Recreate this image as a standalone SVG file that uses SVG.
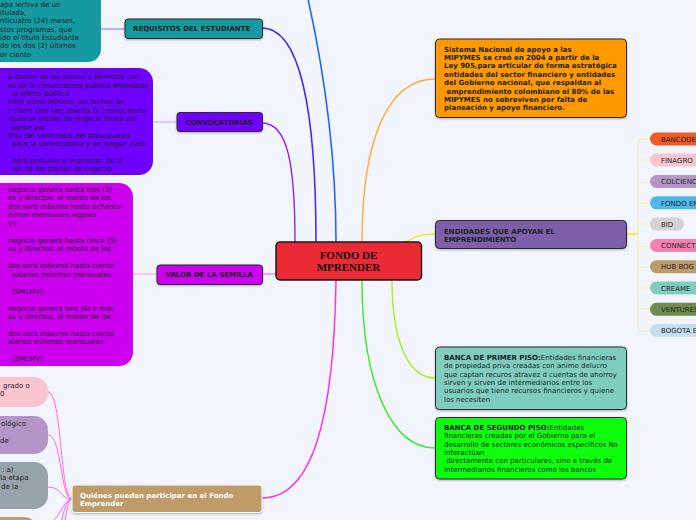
<svg xmlns="http://www.w3.org/2000/svg" width="696" height="520" viewBox="0 0 696 520">
<defs>
<filter id="sh" x="-10%" y="-10%" width="120%" height="130%"><feDropShadow dx="0" dy="1" stdDeviation="0.8" flood-color="#000" flood-opacity="0.3"/></filter>
<style>
.t{font-family:"DejaVu Sans",Verdana,sans-serif;font-size:7px;fill:#1e1e1e}
.b{font-weight:bold}
.w{fill:#ffffff}
.box{stroke:#2a2a2a;stroke-width:1;filter:url(#sh)}
.big{stroke:none}
.c{fill:none;stroke-linecap:round}
.pill{stroke:none}
</style>
</defs>
<rect width="696" height="520" fill="#f2f5fd"/>

<g id="connectors">
<path class="c" d="M316,242 C316,110 300,28 262,28" stroke="#4030ee" stroke-width="1.6"/>
<path class="c" d="M336,242 C336,150 322,60 306,-10" stroke="#2266ff" stroke-width="1.6"/>
<path class="c" d="M295,242 C295,165 288,123 262,123" stroke="#8a22ff" stroke-width="1.4"/>
<path class="c" d="M362,242 C362,135 390,79 435,79" stroke="#ffaa33" stroke-width="1.4"/>
<path class="c" d="M405,243 C412,237 420,234 435,234" stroke="#eeee22" stroke-width="1.4"/>
<path class="c" d="M392,280 C392,345 410,378 435,378" stroke="#aaee22" stroke-width="1.4"/>
<path class="c" d="M362,280 C362,385 392,448 435,448" stroke="#33ee22" stroke-width="1.4"/>
<path class="c" d="M336,280 C334,420 312,498 262,498" stroke="#ff33dd" stroke-width="1.5"/>
<path class="c" d="M262,274 L276,274" stroke="#ee88ff" stroke-width="1.5"/>
<path class="c" d="M101,29 L125,29" stroke="#7a70ff" stroke-width="1.2"/>
<path class="c" d="M153,122 L177,122" stroke="#c49cff" stroke-width="1.2"/>
<path class="c" d="M133,274 L157,274" stroke="#e6a0ff" stroke-width="1.2"/>
<path class="c" d="M626,234 L638,234" stroke="#eeee11" stroke-width="1.5"/>
<g stroke="#f3f39a" stroke-width="1" fill="none">
<path d="M638,143 Q638,139 642,139 L650,139"/>
<path d="M638,326 Q638,331 642,331 L650,331"/>
<path d="M638,143 L638,326"/>
<path d="M638,160 L650,160"/>
<path d="M638,182 L650,182"/>
<path d="M638,203 L650,203"/>
<path d="M638,224 L650,224"/>
<path d="M638,246 L650,246"/>
<path d="M638,267 L650,267"/>
<path d="M638,288 L650,288"/>
<path d="M638,309 L650,309"/>
</g>
<g stroke="#ff66e0" stroke-width="1" fill="none">
<path d="M72,499 C60,499 62,392 48,392"/>
<path d="M72,499 C60,499 62,435 48,435"/>
<path d="M72,499 C60,499 62,487 48,487"/>
<path d="M72,499 C62,499 60,525 38,530"/>
<path d="M72,499 C62,499 60,540 50,570"/>
<path d="M72,499 C64,499 63,560 55,600"/>
</g>
</g>

<g id="center">
<rect x="276" y="242" width="145.5" height="38" rx="4" fill="#ec2a35" stroke="#1a1a1a" stroke-width="1.5"/>
<text x="348.5" y="259" text-anchor="middle" font-family="'Liberation Serif',serif" font-weight="bold" font-size="11" fill="#111">FONDO DE</text>
<text x="348.5" y="270.5" text-anchor="middle" font-family="'Liberation Serif',serif" font-weight="bold" font-size="11" fill="#111">MPRENDER</text>
</g>

<g id="requisitos">
<rect class="box" x="125" y="19" width="137.5" height="19.5" rx="3" fill="#159aa0"/>
<text class="t b" x="133" y="31">REQUISITOS DEL ESTUDIANTE</text>
</g>
<g id="requisitos-detalle">
<rect class="big" x="-40" y="-20" width="141" height="82" rx="13" fill="#159aa0"/>
<text class="t" x="0" y="6.5">apa lectiva de un</text>
<text class="t" x="0" y="14.9">itulada,</text>
<text class="t" x="0" y="23.2">nticuatro (24) meses,</text>
<text class="t" x="0" y="31.6">stos programas, que</text>
<text class="t" x="0" y="40">ido el título Estudiante</text>
<text class="t" x="0" y="48.3">do los dos (2) últimos</text>
<text class="t" x="0" y="56.7">or ciento</text>
</g>

<g id="convocatorias">
<rect class="box" x="177" y="112.5" width="85.5" height="19" rx="3" fill="#7000ff"/>
<text class="t b" x="185.5" y="125">CONVOCATORIAS</text>
</g>
<g id="convocatorias-detalle">
<rect class="big" x="-40" y="68" width="193" height="107" rx="14" fill="#7000ff"/>
<text class="t" x="8" y="79.2">á dentro de los plazos y términos  con</text>
<text class="t" x="8" y="87.6">es de la convocatoria pública entendida</text>
<text class="t" x="12" y="96">la oferta pública</text>
<text class="t" x="8" y="104.3">ndrá como mínimo, las fechas de</text>
<text class="t" x="8" y="112.7">r cierre Una vez abierta la convocatoria</text>
<text class="t" x="8" y="121.1">stularse planes de negocio hasta por</text>
<text class="t" x="10" y="129.5">veinte por</text>
<text class="t" x="8" y="137.8">0%) del valor total del presupuesto</text>
<text class="t" x="12" y="146.2">para la convocatoria y en ningún caso</text>
<text class="t" x="12" y="163">odrá postular al momento de la</text>
<text class="t" x="12" y="171.3">ión de los planes de negocio</text>
</g>

<g id="valor">
<rect class="box" x="157" y="265" width="105.5" height="19.5" rx="3" fill="#cc00ee"/>
<text class="t b" x="165.5" y="277">VALOR DE LA SEMILLA</text>
</g>
<g id="valor-detalle">
<rect class="big" x="-40" y="183" width="173" height="183" rx="14" fill="#cc00ee"/>
<text class="t" x="8" y="191.8">negocio genera hasta tres (3)</text>
<text class="t" x="8" y="200.3">es y directos, el monto de los</text>
<text class="t" x="8" y="208.8">dos será máximo hasta ochenta</text>
<text class="t" x="8" y="217.2">nimos mensuales legales</text>
<text class="t" x="8" y="225.7">V).</text>
<text class="t" x="8" y="242.7">negocio genera hasta cinco (5)</text>
<text class="t" x="8" y="251.2">es y directos, el monto de los</text>
<text class="t" x="8" y="268.1">dos será máximo hasta ciento</text>
<text class="t" x="12" y="276.6">salarios mínimos mensuales</text>
<text class="t" x="12" y="293.6">(SMLMV).</text>
<text class="t" x="8" y="310.5">negocio genera seis (6) o más</text>
<text class="t" x="8" y="319">es y directos, el monto de los</text>
<text class="t" x="8" y="336">dos será máximo hasta ciento</text>
<text class="t" x="8" y="344.4">alarios mínimos mensuales</text>
<text class="t" x="12" y="361.4">(SMLMV).</text>
</g>

<g id="quienes">
<rect x="72" y="485" width="190" height="27.5" rx="3" fill="#bf9b6b" stroke="#ffffff" stroke-width="1" filter="url(#sh)"/>
<text class="t b w" x="80" y="497.5">Quiénes pueden participar en el Fondo</text>
<text class="t b w" x="80" y="505.8">Emprender</text>
</g>
<g id="quienes-1">
<rect class="big" x="-40" y="377" width="88" height="30" rx="14" fill="#f9c6d0"/>
<text class="t" x="3" y="387.5">grado o</text>
<text class="t" x="0" y="395.5">0</text>
</g>
<g id="quienes-2">
<rect class="big" x="-40" y="416" width="88" height="38" rx="14" fill="#b395c8"/>
<text class="t" x="1" y="425.5">ológico</text>
<text class="t" x="0" y="442.5">de</text>
</g>
<g id="quienes-3">
<rect class="big" x="-40" y="462" width="88" height="47" rx="14" fill="#97a3aa"/>
<text class="t" x="2" y="471.5">: a)</text>
<text class="t" x="0" y="480">la etapa</text>
<text class="t" x="1" y="488.5">de la</text>
</g>
<g id="quienes-4">
<rect class="big" x="-40" y="517" width="78" height="30" rx="14" fill="#bf9b6b"/>
</g>

<g id="sistema">
<rect class="box" x="435.5" y="39" width="191" height="78.5" rx="4" fill="#ff9900"/>
<text class="t b" x="444" y="51.5">Sistema Nacional de apoyo a las</text>
<text class="t b" x="444" y="59.9">MIPYMES se creó en 2004 a partir de la</text>
<text class="t b" x="444" y="68.3">Ley 905,para articular de forma estratégica</text>
<text class="t b" x="444" y="76.7">entidades del sector financiero y entidades</text>
<text class="t b" x="444" y="85.1">del Gobierno nacional, que respaldan al</text>
<text class="t b" x="444" y="93.5" xml:space="preserve"> emprendimiento colombiano el 80% de las</text>
<text class="t b" x="444" y="101.9">MIPYMES no sobreviven por falta de</text>
<text class="t b" x="444" y="110.3">planeación y apoyo financiero.</text>
</g>

<g id="entidades">
<rect class="box" x="435.5" y="220.5" width="191" height="28" rx="4" fill="#7b5fa8"/>
<text class="t b" x="444" y="233.5">ENDIDADES QUE APOYAN EL</text>
<text class="t b" x="444" y="241.8">EMPRENDIMIENTO</text>
</g>

<g id="banca-primer">
<rect class="box" x="435.5" y="347" width="191" height="62.5" rx="4" fill="#7fcdc1"/>
<text class="t" x="444" y="359.8"><tspan class="b">BANCA DE PRIMER PISO:</tspan>Entidades financieras</text>
<text class="t" x="444" y="368.2">de propiedad priva creadas con animo delucro</text>
<text class="t" x="444" y="376.6">que captan recuros atravez d cuentas de ahorroy</text>
<text class="t" x="444" y="385">sirven y sirven de intermediarios entre los</text>
<text class="t" x="444" y="393.4">usuarios que tiene recursos financieros y quiene</text>
<text class="t" x="444" y="401.8">los necesiten</text>
</g>

<g id="banca-segundo">
<rect class="box" x="435.5" y="417.5" width="191" height="61.5" rx="4" fill="#11ff11"/>
<text class="t" x="444" y="429.8"><tspan class="b">BANCA DE SEGUNDO PISO:</tspan>Entidades</text>
<text class="t" x="444" y="438.2">financieras creadas por el Gobierno para el</text>
<text class="t" x="444" y="446.6">desarrollo de sectores económicos específicos No</text>
<text class="t" x="444" y="455">interactúan</text>
<text class="t" x="444" y="463.4" xml:space="preserve"> directamente con particulares, sino a través de</text>
<text class="t" x="444" y="471.8">intermediarios financieros como los bancos</text>
</g>

<g id="bancoldex"><rect class="pill" x="650" y="132.5" width="80" height="13" rx="6.5" fill="#f05a28"/><text class="t" x="661" y="141.5">BANCODE</text></g>
<g id="finagro"><rect class="pill" x="650" y="153.5" width="80" height="13" rx="6.5" fill="#f9c6d0"/><text class="t" x="661" y="162.8">FINAGRO</text></g>
<g id="colciencias"><rect class="pill" x="650" y="175" width="80" height="13" rx="6.5" fill="#b395c8"/><text class="t" x="661" y="184.2">COLCIENC</text></g>
<g id="fondo-emprender"><rect class="pill" x="650" y="196.3" width="80" height="13" rx="6.5" fill="#4db8ea"/><text class="t" x="661" y="205.5">FONDO EN</text></g>
<g id="bid"><rect class="pill" x="650" y="217.6" width="34" height="13" rx="6.5" fill="#d3d3d6"/><text class="t" x="661" y="226.8">BID</text></g>
<g id="connect"><rect class="pill" x="650" y="238.9" width="80" height="13" rx="6.5" fill="#f281b2"/><text class="t" x="661" y="248.1">CONNECT</text></g>
<g id="hub-bog"><rect class="pill" x="650" y="260.2" width="80" height="13" rx="6.5" fill="#bf9b6b"/><text class="t" x="661" y="269.4">HUB BOG</text></g>
<g id="creame"><rect class="pill" x="650" y="281.5" width="80" height="13" rx="6.5" fill="#7fcdc1"/><text class="t" x="661" y="290.7">CREAME</text></g>
<g id="ventures"><rect class="pill" x="650" y="302.8" width="80" height="13" rx="6.5" fill="#6f8c4e"/><text class="t" x="661" y="312">VENTURES</text></g>
<g id="bogota"><rect class="pill" x="650" y="324.1" width="80" height="13" rx="6.5" fill="#c6def2"/><text class="t" x="661" y="333.3">BOGOTA E</text></g>
</svg>
